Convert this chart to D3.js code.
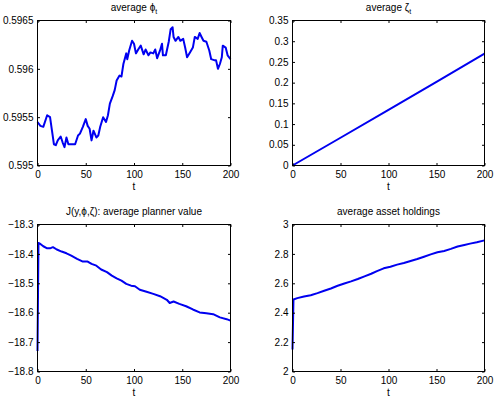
<!DOCTYPE html>
<html>
<head>
<meta charset="utf-8">
<script src="https://cdn.jsdelivr.net/npm/d3@7"></script>
<style>
    body { margin: 0; background: #fff; }
    text { font-family: "Liberation Sans", Arial, Helvetica, sans-serif; fill: #000; }
</style>
</head>
<body>
<div id="chart"></div>
<script>
// shared x axis
const xTicks = [0, 50, 100, 150, 200];

// average phi_t
const phiT = [0, 3, 6, 10, 13, 15, 17, 19, 21, 24, 26, 28, 30, 32, 36, 39, 42, 44, 47, 50,
    52, 54, 56, 58, 61, 63, 65, 68, 71, 73, 75, 78, 80, 82, 85, 87, 89, 92, 93, 95,
    98, 100, 102, 105, 107, 110, 112, 115, 117, 120, 122, 124, 127, 129, 130, 133, 136, 138, 140, 141,
    143, 146, 148, 151, 153, 155, 158, 161, 163, 166, 168, 170, 172, 175, 178, 180, 183, 185, 187, 189,
    191, 192, 195, 197, 200];
const phiValues = [0.59545, 0.59541, 0.59540, 0.59552, 0.59550, 0.59536, 0.59522, 0.59521, 0.59526, 0.59530,
    0.59524, 0.59519, 0.59529, 0.59522, 0.59522, 0.59522, 0.59531, 0.59533, 0.59540, 0.59548,
    0.59541, 0.59538, 0.59526, 0.59536, 0.59529, 0.59531, 0.59540, 0.59550, 0.59545, 0.59552,
    0.59564, 0.59572, 0.59578, 0.59588, 0.59593, 0.59592, 0.59605, 0.59616, 0.59610, 0.59619,
    0.59629, 0.59626, 0.59616, 0.59621, 0.59624, 0.59615, 0.59620, 0.59614, 0.59617, 0.59616,
    0.59620, 0.59611, 0.59619, 0.59626, 0.59614, 0.59614, 0.59628, 0.59641, 0.59643, 0.59633,
    0.59629, 0.59633, 0.59629, 0.59631, 0.59622, 0.59612, 0.59617, 0.59622, 0.59633, 0.59631,
    0.59637, 0.59633, 0.59629, 0.59628, 0.59619, 0.59610, 0.59609, 0.59609, 0.59600, 0.59605,
    0.59612, 0.59624, 0.59622, 0.59614, 0.59610];
const phiTicks = [0.595, 0.5955, 0.596, 0.5965];
const phiTickLabels = ["0.595", "0.5955", "0.596", "0.5965"];

// average zeta_t
const zetaT = [0, 50, 100, 150, 200];
const zetaValues = [0, 0.067, 0.134, 0.202, 0.270];
const zetaTicks = [0, 0.05, 0.1, 0.15, 0.2, 0.25, 0.3, 0.35];
const zetaTickLabels = ["0", "0.05", "0.1", "0.15", "0.2", "0.25", "0.3", "0.35"];

// average planner value J
const jT = [0, 1, 3, 6, 10, 13, 16, 20, 25, 30, 35, 41, 47, 52, 56, 61, 66, 72, 77, 82,
    87, 92, 97, 101, 106, 113, 120, 127, 134, 137, 141, 147, 154, 161, 168, 175, 182, 189, 196, 200];
const jValues = [-18.730, -18.363, -18.366, -18.374, -18.381, -18.381, -18.377, -18.385, -18.392, -18.398,
    -18.406, -18.417, -18.426, -18.426, -18.434, -18.440, -18.453, -18.462, -18.474, -18.483,
    -18.491, -18.502, -18.508, -18.510, -18.522, -18.529, -18.536, -18.544, -18.556, -18.567,
    -18.562, -18.570, -18.578, -18.589, -18.599, -18.602, -18.605, -18.616, -18.622, -18.627];
const jTicks = [-18.8, -18.7, -18.6, -18.5, -18.4, -18.3];
const jTickLabels = ["\u221218.8", "\u221218.7", "\u221218.6", "\u221218.5", "\u221218.4", "\u221218.3"];

// average asset holdings
const assetT = [0, 1, 5, 12, 19, 26, 33, 40, 47, 54, 61, 68, 75, 82, 88, 95, 102, 109, 116, 123,
    130, 137, 144, 151, 158, 165, 172, 179, 185, 192, 200];
const assetValues = [2.150, 2.490, 2.499, 2.510, 2.519, 2.533, 2.549, 2.565, 2.583, 2.599,
    2.613, 2.629, 2.647, 2.665, 2.683, 2.702, 2.713, 2.727, 2.738, 2.752,
    2.765, 2.781, 2.797, 2.811, 2.820, 2.834, 2.850, 2.861, 2.870, 2.879, 2.892];
const assetTicks = [2, 2.2, 2.4, 2.6, 2.8, 3];
const assetTickLabels = ["2", "2.2", "2.4", "2.6", "2.8", "3"];

class LinePanel {

    constructor(svg, box, opts) {
        this.svg = svg;
        this.box = box;
        this.opts = opts;
        this.initVis();
    }

    initVis() {
        let vis = this;
        let b = vis.box;

        vis.g = vis.svg.append("g")
            .attr("transform", `translate(${b.x}, ${b.y})`);

        vis.x = d3.scaleLinear().domain([0, 200]).range([0, b.w]);
        vis.y = d3.scaleLinear().domain(vis.opts.yDomain).range([b.h, 0]);

        // plot area
        vis.g.append("rect")
            .attr("width", b.w)
            .attr("height", b.h)
            .attr("fill", "#fff");

        // line
        let line = d3.line()
            .x(d => vis.x(d[0]))
            .y(d => vis.y(d[1]));

        let pts = vis.opts.t.map((t, i) => [t, vis.opts.values[i]]);

        vis.g.append("path")
            .datum(pts)
            .attr("d", line)
            .attr("fill", "none")
            .attr("stroke", "#0000f0")
            .attr("stroke-width", 2)
            .attr("stroke-linejoin", "round");

        // axes, ticks pointing inwards on all four sides
        let tick = 2.5;
        let labelMap = new Map(vis.opts.yTicks.map((v, i) => [v, vis.opts.yLabels[i]]));

        let yAxis = vis.g.append("g")
            .call(d3.axisLeft(vis.y).tickValues(vis.opts.yTicks).tickSize(-tick).tickPadding(4)
                .tickFormat(d => labelMap.get(d)));
        let yAxisR = vis.g.append("g")
            .attr("transform", `translate(${b.w}, 0)`)
            .call(d3.axisRight(vis.y).tickValues(vis.opts.yTicks).tickSize(-tick).tickFormat(""));
        let xAxis = vis.g.append("g")
            .attr("transform", `translate(0, ${b.h})`)
            .call(d3.axisBottom(vis.x).tickValues(xTicks).tickSize(-tick).tickPadding(4)
                .tickFormat(d3.format("d")));
        let xAxisT = vis.g.append("g")
            .call(d3.axisTop(vis.x).tickValues(xTicks).tickSize(-tick).tickFormat(""));

        [yAxis, yAxisR, xAxis, xAxisT].forEach(a => {
            a.select(".domain").remove();
            a.selectAll("line").attr("stroke", "#000");
            a.selectAll("text")
                .attr("font-family", "Liberation Sans, Arial, sans-serif")
                .attr("font-size", 10)
                .attr("fill", "#000");
        });
        xAxis.selectAll("text").attr("dy", "0.85em");

        // box
        vis.g.append("rect")
            .attr("width", b.w)
            .attr("height", b.h)
            .attr("fill", "none")
            .attr("stroke", "#000")
            .attr("stroke-width", 1);

        // x label
        vis.g.append("text")
            .attr("x", b.w / 2)
            .attr("y", b.h + 24)
            .attr("text-anchor", "middle")
            .attr("font-size", 10)
            .text("t");

        // title
        let title = vis.g.append("text")
            .attr("x", b.w / 2)
            .attr("y", -10)
            .attr("text-anchor", "middle")
            .attr("font-size", 10)
            .text(vis.opts.title);
        if (vis.opts.sub) {
            title.append("tspan")
                .attr("dy", 3)
                .attr("font-size", 7)
                .text(vis.opts.sub);
        }
    }
}

const svg = d3.select("#chart").append("svg")
    .attr("width", 494)
    .attr("height", 398);

svg.append("rect").attr("width", 494).attr("height", 398).attr("fill", "#fff");

new LinePanel(svg, { x: 37.5, y: 20.5, w: 193, h: 145 },
    { t: phiT, values: phiValues, yDomain: [0.595, 0.5965], yTicks: phiTicks, yLabels: phiTickLabels,
      title: "average \u03d5", sub: "t" });
new LinePanel(svg, { x: 292.5, y: 20.5, w: 192, h: 145 },
    { t: zetaT, values: zetaValues, yDomain: [0, 0.35], yTicks: zetaTicks, yLabels: zetaTickLabels,
      title: "average \u03b6", sub: "t" });
new LinePanel(svg, { x: 37.5, y: 224.5, w: 193, h: 147 },
    { t: jT, values: jValues, yDomain: [-18.8, -18.3], yTicks: jTicks, yLabels: jTickLabels,
      title: "J(y,\u03d5,\u03b6): average planner value" });
new LinePanel(svg, { x: 292.5, y: 224.5, w: 192, h: 147 },
    { t: assetT, values: assetValues, yDomain: [2, 3], yTicks: assetTicks, yLabels: assetTickLabels,
      title: "average asset holdings" });
</script>
</body>
</html>
